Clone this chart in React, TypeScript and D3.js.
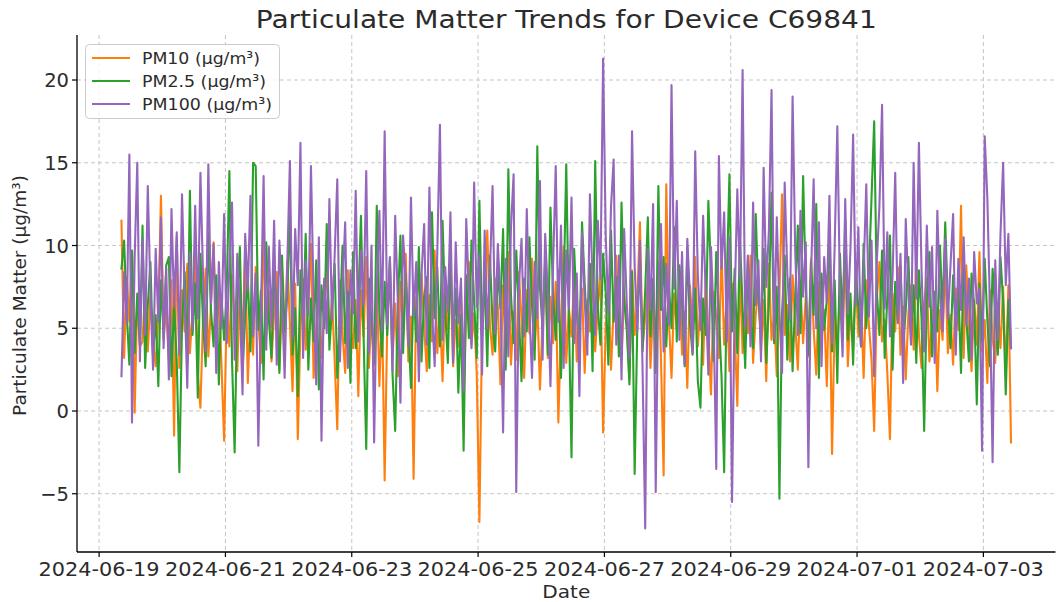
import React from "react";
import * as d3 from "d3";

const startTime = "2024-06-19T08:30:00Z"; // hourly readings
const seriesNames = ["PM10 (µg/m³)", "PM2.5 (µg/m³)", "PM100 (µg/m³)"];
const seriesColors = ["#ff7f0e", "#2ca02c", "#9467bd"];

const pm10 = [
  11.5, 3.2, 8.1, 5.4, 9.6, -0.1, 6.8, 3.9, 4.2, 7.5, 3.6, 6.9, 4.1, 2.7, 5.8, 13.0, 4.4, 6.2, 3.1, 7.9,
  -1.5, 10.5, 2.6, 7.3, 4.8, 8.9, 3.5, 6.1, 9.4, 2.2, 0.2, 5.7, 8.6, 3.3, 6.4, 10.2, 4.9, 7.1, 2.8, -1.8,
  6.3, 3.9, 8.2, 5.1, 2.4, 7.6, 4.3, 9.8, 1.7, 6.0, 3.4, 8.7, 5.5, 2.9, 11.0, 4.6, 7.2, 3.0, 5.9, 8.4,
  2.5, 6.6, 4.0, 9.1, 5.3, 1.2, 7.7, -1.7, 5.0, 8.0, 3.7, 6.3, 10.1, 2.0, 4.9, 7.4, 3.2, 5.6, 9.0, 4.4,
  6.8, 3.1, -1.1, 7.9, 4.7, 2.3, 8.5, 5.2, 3.8, 6.7, 0.9, 7.3, 4.5, 9.3, 2.6, 5.8, 3.5, 8.1, 1.5, 6.2,
  -4.2, 5.4, 8.8, 3.3, 6.5, 2.1, 7.8, 4.6, 9.5, 3.0, 5.7, -4.1, 6.9, 3.6, 8.3, 5.1, 2.4, 7.0, 4.2, 9.7,
  3.5, 6.1, 1.8, 7.5, 4.9, 8.6, 2.7, 5.5, 3.9, 7.2, 0.5, 6.4, 9.0, 4.0, 5.9, 2.2, -6.7, 4.8, 7.1, 10.9,
  5.2, 3.4, 8.0, 6.3, 1.6, 7.6, 4.3, 9.6, 2.8, 6.0, 3.1, 8.4, 5.6, 2.0, 7.3, 4.7, 9.2, 3.7, 6.6, 1.3,
  5.4, 8.7, 3.2, 6.9, 4.1, 7.8, -0.7, 5.1, 9.9, 2.9, 6.2, 4.5, 8.1, 3.0, 5.8, 7.4, 2.3, 6.7, 4.8, 9.1,
  3.6, 6.4, 8.2, -1.3, 5.0, 7.7, 2.5, 6.1, 9.4, 4.2, 3.3, 7.0, 5.3, 1.9, 8.5, 4.6, 6.8, 11.4, 3.8, 5.7,
  7.9, 2.6, 6.3, 4.4, 9.0, 3.1, -3.9, 13.7, 5.5, 2.0, 7.1, 4.9, 8.3, 3.4, 6.0, 1.4, 7.6, 5.2, 9.3, 3.9,
  6.5, 2.8, 8.0, 4.5, 1.0, 7.2, 5.6, 3.2, 9.8, 4.0, 6.9, 2.4, 7.7, 5.0, 0.3, 8.6, 3.5, 6.2, 4.7, 9.4,
  2.9, 5.8, 7.4, 3.6, 6.7, 1.8, 8.9, 4.3, 5.9, 2.1, 7.0, 13.1, 4.6, 6.4, 3.0, 8.2, 5.3, 2.5, 7.5, 4.1,
  6.9, 3.3, 9.2, 5.0, 2.2, 7.8, 4.4, 6.1, 1.5, 8.4, -2.6, 5.7, 3.8, 7.3, 4.9, 9.5, 2.7, 6.0, 3.9, 8.1,
  4.5, 6.6, 2.0, 7.9, 5.2, 3.1, -1.2, 6.8, 9.0, 4.2, 5.5, 2.3, -1.7, 7.1, 4.8, 8.7, 3.4, 6.3, 1.9, 5.9,
  7.6, 3.7, 9.3, 4.6, 2.6, 6.5, 8.0, 3.0, 5.4, 7.2, 1.2, 6.1, 4.3, 9.1, 3.5, 5.8, 2.8, 7.4, 4.9, 12.4,
  3.2, 8.8, 5.1, 2.4, 6.7, 4.0, 9.6, 3.6, 5.5, 1.7, 7.3, 4.4, 2.9, 6.2, 3.8, 7.5, 2.1, 7.6, -1.9,
];

const pm25 = [
  8.6, 10.3, 5.9, 2.8, 9.7, 3.5, 7.1, 4.0, 11.2, 2.6, 6.4, 9.0, 3.3, 5.8, 1.5, 7.9, 4.7, 8.8, 9.3, 2.1,
  6.5, 3.0, -3.7, 5.2, 8.4, 2.9, 13.3, 4.6, 7.7, 0.8, 9.5, 5.3, 2.7, 10.8, 6.1, 3.9, 8.2, 1.6, 6.9, 4.3,
  7.4, 14.5, 3.1, -2.5, 6.6, 9.9, 2.4, 5.7, 8.1, 3.6, 15.0, 14.8, 4.9, 7.3, 1.9, 10.2, 5.5, 3.2, 8.7, 6.0,
  2.3, 9.4, 4.8, 7.0, 12.1, 3.4, 6.2, 0.9, 8.5, 5.1, 10.7, 2.5, 6.8, 4.2, 9.1, 1.3, 7.6, 5.0, 11.3, 3.7,
  6.3, 8.9, 2.0, 5.6, 10.0, 4.1, 7.2, 1.7, 9.6, 3.8, 6.7, 11.8, 4.5, -2.3, 8.0, 5.4, 2.8, 12.4, 6.0, 3.3,
  7.8, 4.6, 9.2, 2.2, -1.2, 6.4, 10.6, 3.5, 8.3, 5.0, 1.4, 7.5, 4.2, 9.9, 3.0, 6.9, 8.1, 2.6, 12.0, 5.6,
  8.7, 3.9, 11.5, 6.1, 2.9, 9.0, 4.7, 7.4, 1.1, 5.8, -2.4, 8.2, 4.4, 10.3, 6.6, 3.2, 12.7, 5.1, 7.9, 2.7,
  9.4, 5.3, 3.6, 8.6, 6.2, 11.0, 2.5, 14.6, 7.0, 4.1, 9.7, 5.9, 1.8, 8.0, 4.8, 10.5, 6.4, 3.1, 16.0, 7.5,
  5.0, 9.2, 3.4, 12.3, 6.9, 4.3, 8.5, 2.0, 7.1, 14.9, 5.6, -2.8, 9.8, 6.0, 3.7, 11.4, 7.7, 4.5, 8.9, 2.4,
  15.1, 6.3, 4.0, 9.5, 7.2, 2.8, 10.9, 5.4, 8.1, 3.3, 12.6, 6.7, 4.9, 1.6, 8.4, -3.8, 5.2, 9.1, 3.6, 7.3,
  11.7, 4.5, 8.0, 2.3, 13.6, 6.1, 9.3, 3.9, 7.6, 5.0, 11.1, 4.2, 8.8, 6.5, 2.7, 9.9, 5.3, 3.4, 7.4, 1.8,
  0.2, 6.8, 4.6, 12.7, 8.2, 3.0, 9.6, 5.7, 2.1, -3.7, 7.9, 14.3, 4.8, 8.6, 3.5, 10.4, 6.3, 2.6, 9.1, 5.5,
  3.8, 11.9, 7.0, 4.4, 9.8, 2.9, 6.6, 13.2, 4.1, 7.5, -5.3, 5.9, 9.4, 3.1, 8.0, 2.4, 6.8, 11.2, 4.7, 14.2,
  7.6, 3.4, 9.0, 5.8, 12.5, 2.0, 8.3, 4.9, 6.7, 10.8, 3.6, 7.9, 1.7, 9.5, 5.2, 11.6, 4.3, 7.1, 2.8, 8.7,
  6.2, 3.9, 10.1, 5.0, 8.4, 12.9, 17.5, 7.3, 4.6, 9.7, 3.2, 6.9, 10.6, 2.5, 7.8, 5.4, 8.8, 3.7, 6.1, 9.3,
  4.4, 7.6, 2.9, 8.5, 5.6, -1.2, 6.8, 9.6, 3.3, 7.2, 4.8, 10.0, 5.9, 11.4, 6.5, 3.8, 8.2, 4.9, 7.4, 2.3,
  9.1, 5.7, 3.0, 8.3, 6.4, 0.4, 7.7, 4.2, 9.2, 5.5, 2.7, 8.6, 6.0, 3.4, 9.3, 6.6, 1.0, 6.7, 3.8,
];

const pm100 = [
  2.1, 8.4, 5.3, 15.5, -0.7, 9.2, 15.0, 3.0, 10.4, 4.6, 13.6, 7.1, 2.5, 9.8, 5.4, 11.7, 3.8, 8.6, 1.9, 12.2,
  6.3, 10.8, 3.4, 13.1, 7.0, 1.4, 9.6, 4.9, 12.4, 5.6, 14.4, 8.1, 3.6, 14.9, 6.5, 10.1, 2.3, 9.0, 5.0, 11.9,
  4.1, 8.8, 12.6, 3.1, 9.5, 6.2, 1.0, 10.7, 7.3, 13.0, 4.5, 8.3, -2.1, 6.0, 14.2, 3.7, 9.9, 5.1, 11.5, 2.8,
  10.3, 6.7, 2.0, 8.9, 15.1, 4.4, 11.0, 7.6, 16.2, 3.2, 9.1, 5.8, 14.8, 6.9, 1.6, 10.5, -1.8, 8.0, 4.7, 12.8,
  5.5, 9.4, 14.0, 3.0, 7.7, 11.4, 2.6, 8.5, 5.9, 13.3, 4.2, 9.7, 6.4, 14.5, 3.5, 10.0, -1.9, 7.4, 12.1, 4.8,
  16.9, 5.2, 9.3, 2.4, 11.8, 6.6, 0.5, 10.6, 7.9, 3.9, 12.9, 5.7, 9.0, 1.8, 8.2, 11.3, 4.0, 13.5, 6.1, 2.7,
  9.6, 17.3, 4.3, 8.7, 6.0, 12.0, 2.9, 10.2, 5.3, 8.0, 1.2, 11.6, 7.2, 3.8, 13.8, 6.3, 9.5, 2.2, 10.9, 5.0,
  8.4, 13.6, 4.7, 10.1, 6.8, -1.3, 9.2, 3.3, 11.1, 14.3, -4.9, 7.5, 10.4, 4.5, 12.2, 6.1, 2.0, 9.0, 5.6, 13.9,
  3.1, 10.7, 7.0, 1.5, 8.8, 14.8, 5.4, 11.2, 2.6, 9.7, 6.2, 12.9, 4.1, 8.3, 0.9, 10.8, 6.7, 3.4, 13.1, 7.8,
  4.6, 11.5, 8.0, 21.3, 10.6, 5.9, 12.3, 15.2, 4.0, 9.4, 1.9, 11.0, 6.5, 3.2, 16.9, 8.7, 4.8, 10.3, 2.5, -7.1,
  9.8, 6.1, 12.5, -4.9, 7.7, 11.3, 3.6, 8.9, 5.2, 19.7, 7.4, 12.7, 4.3, 9.6, 2.8, 10.4, 6.9, 3.5, 15.7, 8.2,
  4.9, 11.8, 7.1, 2.2, 9.9, 5.6, -3.5, 15.4, 8.6, 12.0, 4.2, 10.5, -5.5, 6.8, 13.4, 7.9, 20.6, 5.1, 9.4, 3.9,
  12.6, 6.4, 9.1, 3.0, 14.7, 7.5, 10.9, 19.4, 4.4, 11.7, 6.0, 2.3, 13.8, 8.3, 5.5, 19.0, 9.7, 4.6, 12.1, 6.9,
  10.2, -3.4, 8.1, 14.0, 5.0, 11.4, 2.7, 9.3, 6.6, 13.0, 4.1, 10.0, 17.2, 7.2, 3.3, 12.8, 5.9, 9.8, 16.7, 6.4,
  11.1, 3.9, 8.4, 13.7, 5.7, 10.3, 2.1, 9.0, 12.4, 18.5, 6.2, 10.8, 4.5, 8.2, 14.4, 5.3, 9.5, 1.7, 11.6, 7.3,
  4.0, 15.0, 6.8, 16.2, 8.5, 3.6, 11.2, 6.3, 9.9, 2.9, 12.1, 7.0, 4.8, 10.4, 5.6, 8.8, 11.9, 3.4, 9.2, 6.1,
  10.5, 5.2, 8.0, 3.1, 9.6, 6.5, 7.4, -2.4, 16.6, 12.9, 6.2, -3.1, 9.1, 4.3, 10.7, 15.0, 7.6, 10.7, 3.8,
];

const xTickLabels = [
  "2024-06-19", "2024-06-21", "2024-06-23", "2024-06-25",
  "2024-06-27", "2024-06-29", "2024-07-01", "2024-07-03",
];
const yTickValues = [-5, 0, 5, 10, 15, 20];

const W = 1058;
const H = 602;
const left = 77;
const right = 1055.5;
const top = 35;
const bottom = 552;
const FONT = "'DejaVu Sans', Verdana, sans-serif";
const TEXT = "#2b2b2b";
const legendWidths = [118, 124, 130];

export default function App() {
  const series = [pm10, pm25, pm100];
  const t0 = new Date(startTime).getTime();
  const hour = 3600 * 1000;
  const n = Math.max(...series.map((s) => s.length));
  const tEnd = t0 + (n - 1) * hour;
  const tPad = (tEnd - t0) * 0.05;
  const x = d3
    .scaleUtc()
    .domain([new Date(t0 - tPad), new Date(tEnd + tPad)])
    .range([left, right]);

  const all = series.flat();
  const ymin = d3.min(all)!;
  const ymax = d3.max(all)!;
  const yPad = (ymax - ymin) * 0.05;
  const y = d3.scaleLinear().domain([ymin - yPad, ymax + yPad]).range([bottom, top]);

  const line = d3
    .line<number>()
    .x((_, i) => x(new Date(t0 + i * hour)))
    .y((d) => y(d));

  const xTicks = xTickLabels.map((s) => ({ label: s, pos: x(new Date(s + "T00:00:00Z")) }));

  return (
    <svg
      width={W}
      height={H}
      style={{ position: "absolute", left: 0, top: 0, background: "#fff" }}
      fontFamily={FONT}
    >
      <rect x={0} y={0} width={W} height={H} fill="#fff" />
      {/* grid */}
      <g stroke="#b0b0b0" strokeWidth={0.9} strokeDasharray="4,3" opacity={0.8}>
        {xTicks.map((t) => (
          <line key={t.label} x1={t.pos} x2={t.pos} y1={top} y2={bottom} />
        ))}
        {yTickValues.map((v) => (
          <line key={v} x1={left} x2={right} y1={y(v)} y2={y(v)} />
        ))}
      </g>
      {/* series */}
      <g fill="none" strokeWidth={2.1} strokeLinejoin="round" strokeLinecap="square">
        {series.map((s, k) => (
          <path key={k} d={line(s) || ""} stroke={seriesColors[k]} />
        ))}
      </g>
      {/* spines */}
      <line x1={left} x2={left} y1={top} y2={bottom} stroke="#000" strokeWidth={1.3} />
      <line x1={left} x2={right} y1={bottom} y2={bottom} stroke="#000" strokeWidth={1.3} />
      {/* x ticks */}
      {xTicks.map((t) => (
        <g key={t.label}>
          <line x1={t.pos} x2={t.pos} y1={bottom} y2={bottom + 5} stroke="#000" strokeWidth={1.2} />
          <text
            x={t.pos}
            y={bottom + 24}
            textAnchor="middle"
            fontSize={19}
            fill={TEXT}
            textLength={121}
            lengthAdjust="spacingAndGlyphs"
          >
            {t.label}
          </text>
        </g>
      ))}
      {/* y ticks */}
      {yTickValues.map((v) => (
        <g key={v}>
          <line x1={left - 5} x2={left} y1={y(v)} y2={y(v)} stroke="#000" strokeWidth={1.2} />
          <text x={left - 8} y={y(v) + 7} textAnchor="end" fontSize={19.5} fill={TEXT}>
            {v < 0 ? "\u2212" + Math.abs(v) : v}
          </text>
        </g>
      ))}
      {/* axis labels */}
      <text
        x={(left + right) / 2}
        y={598}
        textAnchor="middle"
        fontSize={18}
        fill={TEXT}
        textLength={48}
        lengthAdjust="spacingAndGlyphs"
      >
        Date
      </text>
      <text
        transform={`translate(26, ${(top + bottom) / 2 + 2}) rotate(-90)`}
        textAnchor="middle"
        fontSize={18.5}
        fill={TEXT}
      >
        Particulate Matter (µg/m³)
      </text>
      {/* title */}
      <text
        x={(left + right) / 2}
        y={28}
        textAnchor="middle"
        fontSize={25.5}
        fill={TEXT}
        textLength={621}
        lengthAdjust="spacingAndGlyphs"
      >
        Particulate Matter Trends for Device C69841
      </text>
      {/* legend */}
      <g>
        <rect x={85.5} y={44.5} width={194} height={74} rx={4} fill="#fff" fillOpacity={0.8} stroke="#cccccc" strokeWidth={1} />
        {seriesNames.map((name, k) => (
          <g key={name}>
            <line x1={92} x2={130} y1={58 + k * 23} y2={58 + k * 23} stroke={seriesColors[k]} strokeWidth={2.1} />
            <text
              x={142}
              y={58 + k * 23 + 6}
              fontSize={16.5}
              fill={TEXT}
              textLength={legendWidths[k]}
              lengthAdjust="spacingAndGlyphs"
            >
              {name}
            </text>
          </g>
        ))}
      </g>
    </svg>
  );
}
